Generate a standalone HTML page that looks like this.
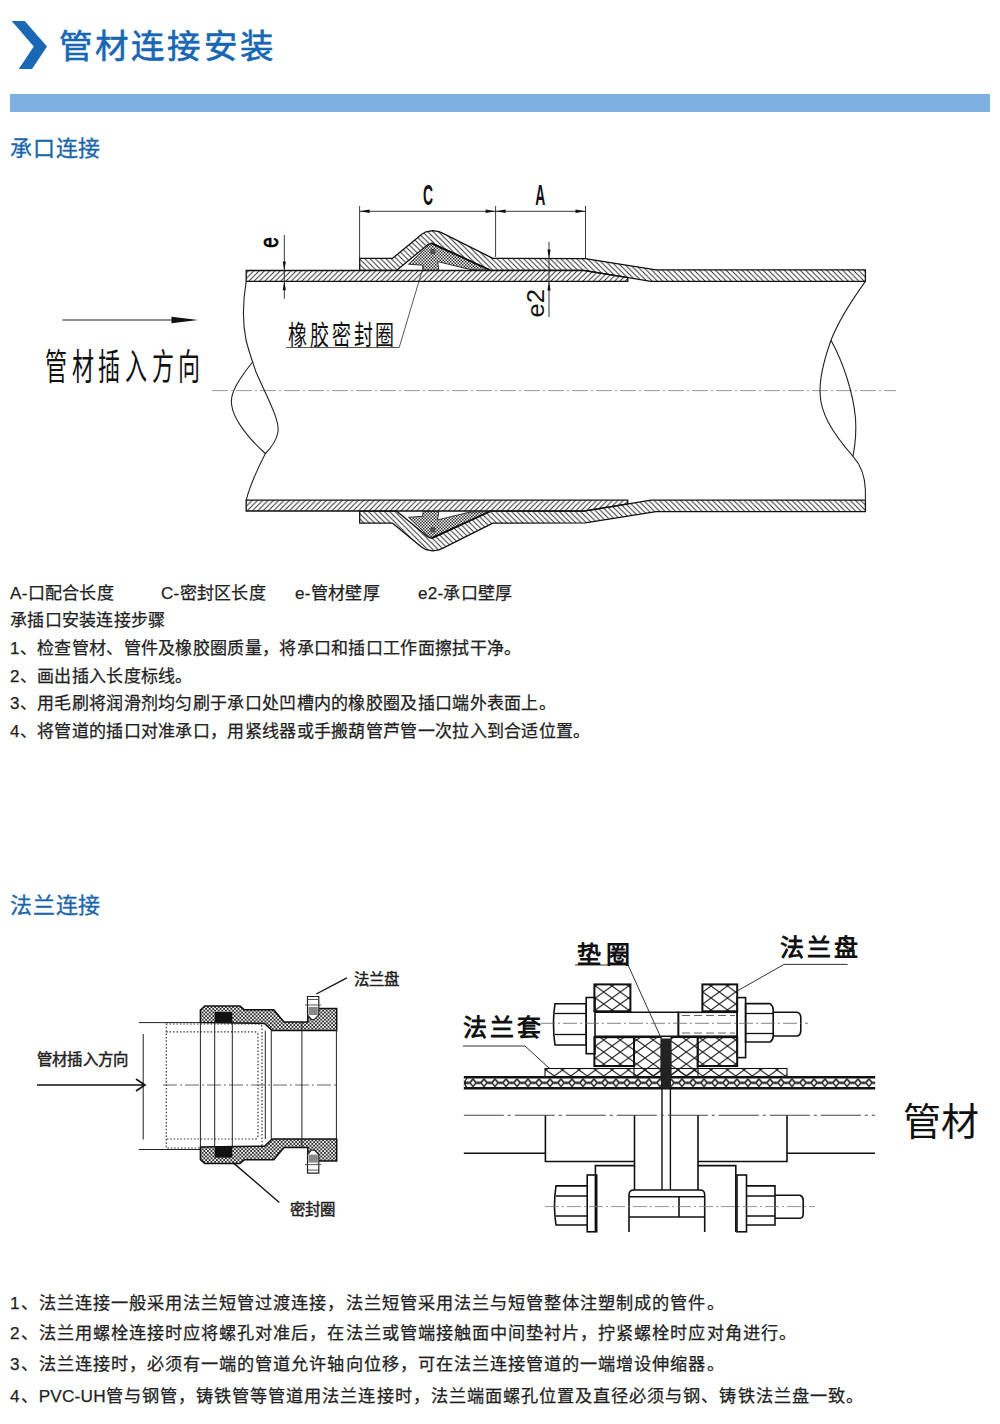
<!DOCTYPE html>
<html lang="zh-CN">
<head>
<meta charset="utf-8">
<style>
html,body{margin:0;padding:0;background:#fff;}
body{width:1000px;height:1424px;position:relative;overflow:hidden;font-family:"Liberation Sans",sans-serif;color:#222;}
.abs{position:absolute;white-space:nowrap;}
#title{left:58.5px;top:25px;font-size:33.5px;line-height:44px;color:#1767b3;letter-spacing:3.3px;-webkit-text-stroke:0.6px #1767b3;}
#bar{left:10px;top:94px;width:980px;height:18px;background:#7eb0e0;}
.sec{font-size:22px;line-height:28px;color:#1a64ad;letter-spacing:0.8px;-webkit-text-stroke:0.3px #1a64ad;}
.txt{font-size:17px;line-height:28px;color:#222;letter-spacing:0.3px;-webkit-text-stroke:0.25px #222;}
.txt2{font-size:17.2px;line-height:30px;color:#222;letter-spacing:1.05px;-webkit-text-stroke:0.25px #222;}
svg{position:absolute;left:0;top:0;}
</style>
</head>
<body>
<svg width="1000" height="1424" viewBox="0 0 1000 1424">

<defs>
 <pattern id="hf" patternUnits="userSpaceOnUse" width="5.3" height="5.3">
  <path d="M-1,6.3 L6.3,-1 M-1,1 L1,-1 M4.3,6.3 L6.3,4.3" stroke="#222" stroke-width="0.9"/>
 </pattern>
 <pattern id="hb" patternUnits="userSpaceOnUse" width="5.3" height="5.3">
  <path d="M-1,-1 L6.3,6.3 M4.3,-1 L6.3,1 M-1,4.3 L1,6.3" stroke="#222" stroke-width="0.9"/>
 </pattern>
 <pattern id="gk" patternUnits="userSpaceOnUse" width="3" height="3">
  <rect width="3" height="3" fill="#f2f2f2"/>
  <rect x="0" y="0" width="1.5" height="1.5" fill="#3a3a3a"/>
  <rect x="1.5" y="1.5" width="1.5" height="1.5" fill="#3a3a3a"/>
 </pattern>
 <pattern id="d2" patternUnits="userSpaceOnUse" width="3.6" height="3.6">
  <rect width="3.6" height="3.6" fill="#eee"/>
  <rect x="0" y="0" width="1.8" height="1.8" fill="#333"/>
  <rect x="1.8" y="1.8" width="1.8" height="1.8" fill="#333"/>
 </pattern>
 <pattern id="xh" patternUnits="userSpaceOnUse" x="1.5" y="2" width="16.5" height="12">
  <path d="M0,0 L16.5,12 M0,12 L16.5,0" stroke="#222" stroke-width="1.1"/>
 </pattern>
 <pattern id="xp" patternUnits="userSpaceOnUse" x="0" y="1077.3" width="11" height="11">
  <rect width="11" height="11" fill="#fff"/>
  <path d="M0,1.5 Q5.5,10.5 11,1.5 M0,9.5 Q5.5,0.5 11,9.5" stroke="#222" stroke-width="1.5" fill="none"/>
 </pattern>
</defs>

<polygon points="11.7,21 24.75,21 47,46.5 32,69 18.75,69 33.75,46.5" fill="#1a68b3"/>
<line x1="212" y1="390.6" x2="896" y2="390.6" stroke="#999" stroke-width="1" stroke-dasharray="16,3,2,3"/>
<polygon points="246.2,270.5 584,270.5 627.8,277.6 627.8,281.3 246.2,281.3" fill="url(#hf)" stroke="#111" stroke-width="1.3"/>
<polygon points="359.7,270.3 359.7,258.3 392.6,258.3 421.5,234.5 426,231.8 432.8,230.6 439,231.6 443,233.4 492.8,258.3 585.2,258.6 656,269.8 865.4,269.8 865.4,281.4 651,281.4 584,270.3 490.4,270.3 435,244.5 431.6,243.2 428,244.5 396.8,270.3" fill="url(#hb)" stroke="#111" stroke-width="1.3" stroke-linejoin="round"/>
<polygon points="408.5,264.2 429,245 431.6,243.6 434,244.6 489.8,270 470,269.5 437.6,261.6 438.8,270 423.2,270 422.6,265.2" fill="url(#gk)" stroke="#222" stroke-width="0.9"/>
<polyline points="431.6,243.4 489.8,270" stroke="#111" stroke-width="1.8" fill="none"/>
<circle cx="432.8" cy="251.6" r="2.3" fill="#555" stroke="#222" stroke-width="0.6"/>
<polygon points="246.2,511.0 584,511.0 627.8,503.9 627.8,500.2 246.2,500.2" fill="url(#hf)" stroke="#111" stroke-width="1.3"/>
<polygon points="359.7,511.2 359.7,523.2 392.6,523.2 421.5,547.0 426,549.7 432.8,550.9 439,549.9 443,548.1 492.8,523.2 585.2,522.9 656,511.7 865.4,511.7 865.4,500.1 651,500.1 584,511.2 490.4,511.2 435,537.0 431.6,538.3 428,537.0 396.8,511.2" fill="url(#hb)" stroke="#111" stroke-width="1.3" stroke-linejoin="round"/>
<polygon points="408.5,517.3 429,536.5 431.6,537.9 434,536.9 489.8,511.5 470,512.0 437.6,519.9 438.8,511.5 423.2,511.5 422.6,516.3" fill="url(#gk)" stroke="#222" stroke-width="0.9"/>
<polyline points="431.6,538.1 489.8,511.5" stroke="#111" stroke-width="1.8" fill="none"/>
<circle cx="432.8" cy="529.9" r="2.3" fill="#555" stroke="#222" stroke-width="0.6"/>
<path d="M246.2,281.3 C243,300 242,320 246,340 C249,352 252,360 256,372 C266,395 280,420 278,432 C276,442 270,449 265.4,453.5 C258,468 250,484 246.2,500.3" stroke="#222" stroke-width="1.1" fill="none"/>
<path d="M252.5,362 C240,378 230,392 231.5,404 C233,420 250,440 265.4,453.5" stroke="#222" stroke-width="1.1" fill="none"/>
<path d="M865.4,281.4 C852,300 838,322 831,340.3 C824,360 819,380 820.2,395 C821,412 830,430 853,456.3 C860,464 865,476 865.4,490 L865.4,499.8" stroke="#222" stroke-width="1.1" fill="none"/>
<path d="M831,340.3 C843,362 853,392 855.5,418 C856.5,432 855,446 853,456.3" stroke="#222" stroke-width="1.1" fill="none"/>
<g stroke="#222" stroke-width="0.9" fill="none"><line x1="359.6" y1="206" x2="359.6" y2="258"/><line x1="495.6" y1="206" x2="495.6" y2="257"/><line x1="585.5" y1="206" x2="585.5" y2="258"/><line x1="359.6" y1="211.3" x2="585.5" y2="211.3"/><line x1="284.3" y1="235" x2="284.3" y2="298.8"/><line x1="549" y1="242" x2="549" y2="317"/></g>
<polygon points="359.6,211.3 369.60,209.60 369.60,213.00" fill="#111"/>
<polygon points="495.6,211.3 485.60,213.00 485.60,209.60" fill="#111"/>
<polygon points="495.6,211.3 505.60,209.60 505.60,213.00" fill="#111"/>
<polygon points="585.5,211.3 575.50,213.00 575.50,209.60" fill="#111"/>
<polygon points="284.3,270.5 282.70,261.50 285.90,261.50" fill="#111"/>
<polygon points="284.3,281.3 285.90,290.30 282.70,290.30" fill="#111"/>
<polygon points="549,258.6 547.40,249.60 550.60,249.60" fill="#111"/>
<polygon points="549,281.4 550.60,290.40 547.40,290.40" fill="#111"/>
<text x="0" y="0" transform="translate(423,205) scale(0.58,1.2)" font-family="Liberation Sans" font-size="24" font-weight="bold" fill="#111">C</text>
<text x="0" y="0" transform="translate(535.3,205) scale(0.58,1.2)" font-family="Liberation Sans" font-size="24" font-weight="bold" fill="#111">A</text>
<text x="0" y="0" transform="translate(277.8,247.8) rotate(-90) scale(1.13,1.47)" font-family="Liberation Sans" font-size="17" fill="#000" stroke="#000" stroke-width="0.5">e</text>
<text x="0" y="0" transform="translate(544.3,317.5) rotate(-90) scale(1.5,1.4)" font-family="Liberation Sans" font-size="17" fill="#111">e2</text>
<polyline points="286,347.5 399.2,347.5 423.5,266" stroke="#444" stroke-width="0.9" fill="none"/>
<text x="0" y="0" transform="translate(288,344.5) scale(1,1.45)" font-family="Liberation Serif" font-size="19" fill="#111" letter-spacing="2.6">橡胶密封圈</text>
<line x1="62.3" y1="320" x2="175" y2="320" stroke="#222" stroke-width="1"/>
<polygon points="198.2,320 171.5,316.8 171.5,323.2" fill="#111"/>
<text x="0" y="0" transform="translate(45,380) scale(1,1.64)" font-family="Liberation Serif" font-size="22" fill="#111" letter-spacing="4.6">管材插入方向</text>
<g stroke="#222" stroke-width="1" fill="none">
<line x1="138.8" y1="1022.6" x2="200.4" y2="1022.6"/><line x1="138.8" y1="1149.5" x2="200.4" y2="1149.5"/>
<line x1="143.2" y1="1034" x2="143.2" y2="1139.6"/>
</g>
<line x1="37" y1="1085" x2="144" y2="1085" stroke="#111" stroke-width="1.6"/>
<polyline points="136,1079 145,1085 136,1091" stroke="#111" stroke-width="1.6" fill="none"/>
<line x1="163" y1="1085" x2="337" y2="1085" stroke="#555" stroke-width="0.9" stroke-dasharray="14,3,2,3"/>
<path d="M166.3,1024 L258,1024 Q262,1024 262,1028 L262,1144 Q262,1148 258,1148 L166.3,1148 Z" stroke="#333" stroke-width="1.2" stroke-dasharray="1.5,1.9" fill="none"/>
<path d="M166.3,1031.8 L255,1031.8 Q258,1032 258,1036 L258,1135 Q258,1139 255,1139 L166.3,1139" stroke="#333" stroke-width="1.2" stroke-dasharray="1.5,1.9" fill="none"/>
<polygon points="200.4,1022.6 200.4,1010 204.8,1006 240,1006 244.4,1009.8 273.8,1009.8 284,1022 307.8,1022 307.8,1008.6 336.7,1008.6 336.7,1030.6 272.1,1030.6 264.5,1023.4" fill="url(#d2)" stroke="#111" stroke-width="1.5"/>
<polygon points="214.7,1012 232.3,1012 232.3,1022.6 214.7,1022.6" fill="#111"/>
<polygon points="307.5,996.5 318.8,996.5 318.8,1015 314.5,1019.5 311.5,1019.5 307.5,1015" fill="#fff" stroke="#222" stroke-width="1.2"/>
<polygon points="308.5,1007 317.8,1007 317.8,1015 308.5,1015" fill="#888"/>
<line x1="305" y1="1005" x2="321" y2="1005" stroke="#444" stroke-width="0.9"/>
<line x1="308" y1="999.5" x2="318" y2="999.5" stroke="#444" stroke-width="0.9"/>
<polygon points="200.4,1147.0 200.4,1159.6 204.8,1163.6 240,1163.6 244.4,1159.8 273.8,1159.8 284,1147.6 307.8,1147.6 307.8,1161.0 336.7,1161.0 336.7,1139.0 272.1,1139.0 264.5,1146.2" fill="url(#d2)" stroke="#111" stroke-width="1.5"/>
<polygon points="214.7,1157.6 232.3,1157.6 232.3,1147.0 214.7,1147.0" fill="#111"/>
<polygon points="307.5,1173.1 318.8,1173.1 318.8,1154.6 314.5,1150.1 311.5,1150.1 307.5,1154.6" fill="#fff" stroke="#222" stroke-width="1.2"/>
<polygon points="308.5,1162.6 317.8,1162.6 317.8,1154.6 308.5,1154.6" fill="#888"/>
<line x1="305" y1="1164.6" x2="321" y2="1164.6" stroke="#444" stroke-width="0.9"/>
<line x1="308" y1="1170.1" x2="318" y2="1170.1" stroke="#444" stroke-width="0.9"/>
<g stroke="#222" stroke-width="1" fill="none">
<line x1="200.4" y1="1022.6" x2="200.4" y2="1147"/>
<line x1="214.7" y1="1022.6" x2="214.7" y2="1147"/>
<line x1="232.3" y1="1022.6" x2="232.3" y2="1147"/>
<line x1="265.3" y1="1030.6" x2="265.3" y2="1139"/>
<line x1="271.25" y1="1030.6" x2="271.25" y2="1139"/>
<line x1="301.9" y1="1030.6" x2="301.9" y2="1139"/>
<line x1="336.4" y1="1030.6" x2="336.4" y2="1139"/>
<line x1="301.9" y1="1022" x2="301.9" y2="1031"/><line x1="301.9" y1="1139" x2="301.9" y2="1148"/>
</g>
<polyline points="346.9,977.9 316.3,994" stroke="#111" stroke-width="1.4" fill="none"/>
<text x="354" y="985" font-family="Liberation Serif" font-size="15.4" fill="#222" stroke="#222" stroke-width="0.45">法兰盘</text>
<polyline points="233,1162.6 279.3,1202.5" stroke="#111" stroke-width="1.4" fill="none"/>
<text x="289.5" y="1214.5" font-family="Liberation Serif" font-size="15.4" fill="#222" stroke="#222" stroke-width="0.45">密封圈</text>
<text x="37" y="1065" font-family="Liberation Serif" font-size="15.4" fill="#222" stroke="#222" stroke-width="0.45" letter-spacing="0.2">管材插入方向</text>
<rect x="463.8" y="1077.3" width="411.4" height="11" fill="url(#xp)"/><path d="M463.8,1077.3 L875.2,1077.3 M463.8,1088.3 L875.2,1088.3" stroke="#111" stroke-width="2.4"/><path d="M467,1078 Q463,1083 467,1088" stroke="#111" stroke-width="1.2" fill="none"/>
<rect x="545" y="1068.5" width="242" height="8.8" fill="url(#xh)" stroke="#111" stroke-width="1.1"/>
<rect x="634" y="1037.5" width="27" height="40" fill="url(#xh)" stroke="#111" stroke-width="1.1"/>
<rect x="671" y="1037.5" width="27" height="40" fill="url(#xh)" stroke="#111" stroke-width="1.1"/>
<rect x="594.4" y="984.4" width="36" height="26.9" fill="url(#xh)" stroke="#111" stroke-width="2"/>
<rect x="702.4" y="984.4" width="34.8" height="26.9" fill="url(#xh)" stroke="#111" stroke-width="2"/>
<rect x="594.4" y="1037.2" width="39.6" height="28.8" fill="url(#xh)" stroke="#111" stroke-width="2"/>
<rect x="697.6" y="1037.2" width="39.6" height="28.8" fill="url(#xh)" stroke="#111" stroke-width="2"/>
<rect x="661" y="1038.5" width="10" height="50" fill="#222"/>
<line x1="662" y1="1088" x2="662" y2="1190" stroke="#111" stroke-width="1.4"/><line x1="670.4" y1="1088" x2="670.4" y2="1190" stroke="#111" stroke-width="1.4"/>
<path d="M555,1003.8 L586.2,1003.8 L586.2,1045 L555,1045 Q552,1024 555,1003.8 Z" stroke="#111" stroke-width="1.6" fill="none"/>
<line x1="555" y1="1013.5" x2="586" y2="1013.5" stroke="#111" stroke-width="1.3"/><line x1="555" y1="1034.5" x2="586" y2="1034.5" stroke="#111" stroke-width="1.3"/>
<rect x="586.2" y="997.5" width="8.8" height="56.2" stroke="#111" stroke-width="1.6" fill="none"/>
<path d="M595,1012.3 L678.4,1012.3 L678.4,1036.2 L595,1036.2" stroke="#111" stroke-width="1.6" fill="none"/>
<rect x="678.4" y="1012.3" width="58.8" height="23.9" stroke="#111" stroke-width="1.6" fill="none"/>
<line x1="682" y1="1015.5" x2="735" y2="1015.5" stroke="#555" stroke-width="0.9" stroke-dasharray="8,4"/><line x1="682" y1="1033" x2="735" y2="1033" stroke="#555" stroke-width="0.9" stroke-dasharray="8,4"/>
<rect x="737.2" y="997.6" width="8.4" height="60" stroke="#111" stroke-width="1.6" fill="none"/>
<path d="M745.6,1003.6 L770,1003.6 Q773.2,1006 773.2,1010 L773.2,1036 Q773.2,1040 770,1042 L745.6,1042 Z" stroke="#111" stroke-width="1.6" fill="none"/>
<line x1="745.6" y1="1013.5" x2="773" y2="1013.5" stroke="#111" stroke-width="1.3"/><line x1="745.6" y1="1033.5" x2="773" y2="1033.5" stroke="#111" stroke-width="1.3"/>
<path d="M773.2,1012.3 L797,1012.3 Q800.8,1013 800.8,1018 L800.8,1030 Q800.8,1035.5 797,1036 L773.2,1036" stroke="#111" stroke-width="1.6" fill="none"/>
<line x1="541" y1="1023.3" x2="808" y2="1023.3" stroke="#666" stroke-width="0.8" stroke-dasharray="14,3,2,3"/>
<line x1="463.8" y1="1115.3" x2="875" y2="1115.3" stroke="#444" stroke-width="1.1" stroke-dasharray="40,4,3,4"/>
<path d="M463.8,1153.3 L545.4,1153.3 M545.4,1115.6 L545.4,1161.5 L634.5,1161.5 M634.5,1115.6 L634.5,1190 M698,1115.6 L698,1190 M787,1115.6 L787,1161.5 L698,1161.5 M787,1153.3 L875,1153.3" stroke="#111" stroke-width="1.6" fill="none"/>
<path d="M595.4,1232 L595.4,1165.6 L634.5,1165.6 M698,1165.6 L735.8,1165.6 L735.8,1232" stroke="#111" stroke-width="1.6" fill="none"/>
<path d="M629,1232 L629,1195 Q629,1190 634,1190 L700,1190 Q704.7,1190 704.7,1195 L704.7,1232 M629,1196.7 L704.7,1196.7 M679,1196.7 L679,1217 L704.7,1217 M629,1217 L679,1217" stroke="#111" stroke-width="1.6" fill="none"/>
<rect x="587.2" y="1175" width="9.5" height="56.8" stroke="#111" stroke-width="1.6" fill="none"/>
<path d="M587.2,1185.9 L556,1185.9 Q553,1206 556,1225 L587.2,1225 M556,1196 L587,1196 M556,1216 L587,1216" stroke="#111" stroke-width="1.6" fill="none"/>
<rect x="737" y="1175" width="9.5" height="56.8" stroke="#111" stroke-width="1.6" fill="none"/>
<path d="M746.5,1185.9 L775,1185.9 L775,1225 L746.5,1225 M746.5,1196 L775,1196 M746.5,1216 L775,1216" stroke="#111" stroke-width="1.6" fill="none"/>
<path d="M775,1195.3 L800,1195.3 Q803.2,1197 803.2,1200 L803.2,1214 Q803.2,1218 800,1218.2 L775,1218.2" stroke="#111" stroke-width="1.6" fill="none"/>
<line x1="545" y1="1206.6" x2="815" y2="1206.6" stroke="#777" stroke-width="0.8" stroke-dasharray="14,3,2,3"/>
<polyline points="575,965 628,965 662,1040" stroke="#333" stroke-width="1" fill="none"/>
<text x="577" y="963" font-family="Liberation Sans" font-size="24" font-weight="bold" fill="#111" letter-spacing="5">垫圈</text>
<polyline points="463,1046 525,1046 549,1068" stroke="#333" stroke-width="1" fill="none"/>
<text x="463" y="1036" font-family="Liberation Sans" font-size="24" font-weight="bold" fill="#111" letter-spacing="3">法兰套</text>
<polyline points="847.6,964.4 784,964.4 737.2,991" stroke="#333" stroke-width="1" fill="none"/>
<text x="780" y="956" font-family="Liberation Sans" font-size="24" font-weight="bold" fill="#111" letter-spacing="3">法兰盘</text>
<text x="903" y="1135" font-family="Liberation Sans" font-size="38" fill="#111">管材</text>
</svg>
<div id="title" class="abs">管材连接安装</div>
<div id="bar" class="abs"></div>
<div class="abs sec" style="left:10px;top:135px;">承口连接</div>
<div class="abs sec" style="left:10px;top:892px;">法兰连接</div>

<div class="abs txt" style="left:10px;top:580.4px;">A-口配合长度</div>
<div class="abs txt" style="left:161px;top:580.4px;">C-密封区长度</div>
<div class="abs txt" style="left:295px;top:580.4px;">e-管材壁厚</div>
<div class="abs txt" style="left:418px;top:580.4px;">e2-承口壁厚</div>
<div class="abs txt" style="left:10px;top:607.2px;">承插口安装连接步骤</div>
<div class="abs txt" style="left:10px;top:635.3px;">1、检查管材、管件及橡胶圈质量，将承口和插口工作面擦拭干净。</div>
<div class="abs txt" style="left:10px;top:663.3px;">2、画出插入长度标线。</div>
<div class="abs txt" style="left:10px;top:690.4px;">3、用毛刷将润滑剂均匀刷于承口处凹槽内的橡胶圈及插口端外表面上。</div>
<div class="abs txt" style="left:10px;top:718.4px;">4、将管道的插口对准承口，用紧线器或手搬葫管芦管一次拉入到合适位置。</div>

<div class="abs txt2" style="left:10px;top:1288px;">1、法兰连接一般采用法兰短管过渡连接，法兰短管采用法兰与短管整体注塑制成的管件。</div>
<div class="abs txt2" style="left:10px;top:1318px;">2、法兰用螺栓连接时应将螺孔对准后，在法兰或管端接触面中间垫衬片，拧紧螺栓时应对角进行。</div>
<div class="abs txt2" style="left:10px;top:1349.3px;">3、法兰连接时，必须有一端的管道允许轴向位移，可在法兰连接管道的一端增设伸缩器。</div>
<div class="abs txt2" style="left:10px;top:1380.8px;">4、<span style="letter-spacing:0.2px">PVC-UH</span>管与钢管，铸铁管等管道用法兰连接时，法兰端面螺孔位置及直径必须与钢、铸铁法兰盘一致。</div>
</body>
</html>
